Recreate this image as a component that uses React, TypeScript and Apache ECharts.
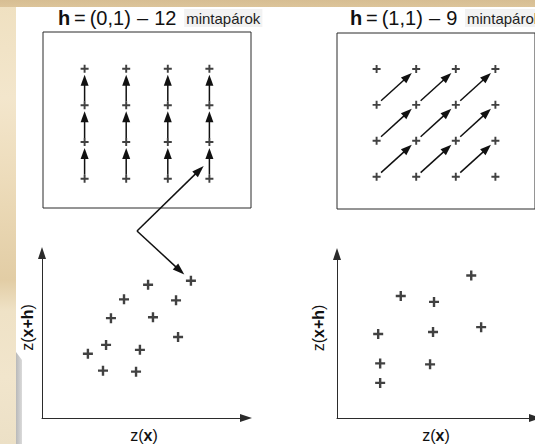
import React, { useEffect, useRef } from "react";
import * as echarts from "echarts";

const FONT = "'Liberation Sans', Arial, Helvetica, sans-serif";
const INK = "#111111";
const AXIS = "#2b2b2b";

// Regular sampling grid shared by both lag diagrams
const sampleCols = [1, 2, 3, 4];
const sampleRows = [1, 2, 3, 4];

// h = (0,1): every sample paired with the one directly above it (12 pairs)
const pairsH01 = [
  [1, 1, 1, 2], [1, 2, 1, 3], [1, 3, 1, 4],
  [2, 1, 2, 2], [2, 2, 2, 3], [2, 3, 2, 4],
  [3, 1, 3, 2], [3, 2, 3, 3], [3, 3, 3, 4],
  [4, 1, 4, 2], [4, 2, 4, 3], [4, 3, 4, 4],
];

// h = (1,1): every sample paired with its upper-right neighbour (9 pairs)
const pairsH11 = [
  [1, 1, 2, 2], [2, 1, 3, 2], [3, 1, 4, 2],
  [1, 2, 2, 3], [2, 2, 3, 3], [3, 2, 4, 3],
  [1, 3, 2, 4], [2, 3, 3, 4], [3, 3, 4, 4],
];

// h-scatterplots: [z(x), z(x+h)]
const scatterH01 = [
  [7.3, 8.32], [5.2, 8.08], [4.02, 7.19], [6.57, 7.13],
  [3.38, 6.05], [5.44, 6.11], [6.67, 4.91], [3.14, 4.43],
  [2.25, 3.89], [4.8, 4.13], [2.99, 2.87], [4.61, 2.81],
];
const scatterH11 = [
  [6.78, 8.69], [3.22, 7.44], [4.9, 7.08],
  [7.28, 5.54], [2.08, 5.12], [4.85, 5.24],
  [2.18, 3.33], [4.7, 3.27], [2.18, 2.14],
];

const titleLeft = ["h", "=", "(0,1)", "–", "12", "mintapárok"];
const titleRight = ["h", "=", "(1,1)", "–", "9", "mintapárok"];

const PLUS = "path://M3.8,0h2.4v3.8h3.8v2.4h-3.8v3.8h-2.4v-3.8h-3.8v-2.4h3.8z";

type Pt = number[];

function arrowParts(p1: Pt, p2: Pt, startGap: number, endGap: number, headLen: number, headW: number, lw: number) {
  const dx = p2[0] - p1[0];
  const dy = p2[1] - p1[1];
  const len = Math.hypot(dx, dy) || 1;
  const ux = dx / len;
  const uy = dy / len;
  const s = [p1[0] + ux * startGap, p1[1] + uy * startGap];
  const t = [p2[0] - ux * endGap, p2[1] - uy * endGap];
  const b = [t[0] - ux * headLen, t[1] - uy * headLen];
  const nx = -uy;
  const ny = ux;
  return [
    {
      type: "line",
      shape: { x1: s[0], y1: s[1], x2: b[0] + ux * 2, y2: b[1] + uy * 2 },
      style: { stroke: INK, lineWidth: lw },
    },
    {
      type: "polygon",
      shape: {
        points: [
          t,
          [b[0] + (nx * headW) / 2, b[1] + (ny * headW) / 2],
          [b[0] - (nx * headW) / 2, b[1] - (ny * headW) / 2],
        ],
      },
      style: { fill: INK },
    },
  ];
}

function pairRenderer(startGap: number, endGap: number) {
  return (_params: any, api: any) => {
    const p1 = api.coord([api.value(0), api.value(1)]);
    const p2 = api.coord([api.value(2), api.value(3)]);
    return { type: "group", children: arrowParts(p1, p2, startGap, endGap, 11, 8, 1.5) };
  };
}

const samplePoints = sampleCols.flatMap((c) => sampleRows.map((r) => [c, r]));

const richTitle = {
  b: { fontFamily: FONT, fontSize: 20, fontWeight: "bold", color: INK, lineHeight: 22 },
  n: { fontFamily: FONT, fontSize: 20, fontWeight: "normal", color: INK, lineHeight: 22 },
  g: { fontFamily: FONT, fontSize: 14, color: INK, lineHeight: 22 },
  w: { fontFamily: FONT, fontSize: 22, color: INK, lineHeight: 22 },
  s: {
    fontFamily: FONT,
    fontSize: 15,
    fontWeight: "normal",
    color: "#1e1e1e",
    backgroundColor: "#f2f2f2",
    padding: [2, 2, 1, 2],
    lineHeight: 18,
  },
};

const richAxis = {
  r: { fontFamily: FONT, fontSize: 16, color: INK },
  b: { fontFamily: FONT, fontSize: 16, fontWeight: "bold", color: INK },
};

function hiddenAxis(gridIndex: number, min: number, max: number) {
  return { gridIndex, type: "value", min, max, show: false };
}

function arrowAxis(gridIndex: number, name: string, nameGap: number, isY: boolean) {
  return {
    gridIndex,
    type: "value",
    min: 0,
    max: 10,
    name,
    nameLocation: "middle",
    nameGap,
    nameRotate: isY ? 90 : 0,
    nameTextStyle: { rich: richAxis, padding: isY ? [0, 0, 0, 16] : 0 },
    axisLine: {
      show: true,
      onZero: false,
      symbol: ["none", "triangle"],
      symbolSize: [8, 12],
      lineStyle: { color: AXIS, width: 1 },
    },
    axisTick: { show: false },
    axisLabel: { show: false },
    splitLine: { show: false },
  };
}

function titleText(p: string[]) {
  return `{b|${p[0]}}{g| }{n|${p[1]}}{g| }{n|${p[2]}}{w| }{n|${p[3]}}{w| }{n|${p[4]}}{g|  }{s|${p[5]}}`;
}

function baseGraphics() {
  return [
    {
      id: "paper",
      type: "rect",
      z: -10,
      shape: { x: 16, y: 7, width: 530, height: 440 },
      style: { fill: "#ffffff" },
    },
    {
      id: "edge",
      type: "polygon",
      z: -9,
      shape: { points: [[16, 352], [22, 360], [22, 444], [16, 444]] },
      style: {
        fill: new echarts.graphic.LinearGradient(0, 0, 1, 0, [
          { offset: 0, color: "#b9b9b9" },
          { offset: 1, color: "#dadada" },
        ]),
      },
    },
  ];
}

export default function App() {
  const ref = useRef<HTMLDivElement>(null);

  useEffect(() => {
    if (!ref.current) return;
    const chart = echarts.init(ref.current, null, { renderer: "svg" });

    const option: any = {
      animation: false,
      backgroundColor: "transparent",
      title: [
        { text: titleText(titleLeft), left: 58, top: 7, padding: 0, textStyle: { rich: richTitle } },
        { text: titleText(titleRight), left: 350, top: 7, padding: 0, textStyle: { rich: richTitle } },
      ],
      grid: [
        { left: 43, top: 32, width: 208, height: 176, show: true, borderColor: AXIS, borderWidth: 1 },
        { left: 337, top: 33, width: 212, height: 176, show: true, borderColor: AXIS, borderWidth: 1 },
        { left: 42, top: 253, width: 204, height: 167 },
        { left: 337, top: 254, width: 202, height: 168 },
      ],
      xAxis: [
        hiddenAxis(0, 0, 5),
        hiddenAxis(1, 0, 5),
        arrowAxis(2, "{r|z(}{b|x}{r|)}", 9, false),
        arrowAxis(3, "{r|z(}{b|x}{r|)}", 9, false),
      ],
      yAxis: [
        hiddenAxis(0, 0.2, 5),
        hiddenAxis(1, 0.1, 5),
        arrowAxis(2, "{r|z(}{b|x+h}{r|)}", 7, true),
        arrowAxis(3, "{r|z(}{b|x+h}{r|)}", 11, true),
      ],
      series: [
        {
          type: "custom",
          xAxisIndex: 0,
          yAxisIndex: 0,
          data: pairsH01,
          renderItem: pairRenderer(4, 6),
          silent: true,
        },
        {
          type: "custom",
          xAxisIndex: 1,
          yAxisIndex: 1,
          data: pairsH11,
          renderItem: pairRenderer(6, 6),
          silent: true,
        },
        {
          type: "scatter",
          xAxisIndex: 0,
          yAxisIndex: 0,
          data: samplePoints,
          symbol: PLUS,
          symbolSize: 8,
          itemStyle: { color: INK },
          z: 5,
        },
        {
          type: "scatter",
          xAxisIndex: 1,
          yAxisIndex: 1,
          data: samplePoints,
          symbol: PLUS,
          symbolSize: 8,
          itemStyle: { color: INK },
          z: 5,
        },
        {
          type: "scatter",
          xAxisIndex: 2,
          yAxisIndex: 2,
          data: scatterH01,
          symbol: PLUS,
          symbolSize: 10,
          itemStyle: { color: INK },
        },
        {
          type: "scatter",
          xAxisIndex: 3,
          yAxisIndex: 3,
          data: scatterH11,
          symbol: PLUS,
          symbolSize: 10,
          itemStyle: { color: INK },
        },
      ],
      graphic: baseGraphics(),
    };
    chart.setOption(option);

    // Link one h=(0,1) pair to its point in the h-scatterplot
    const pairMid = chart.convertToPixel({ xAxisIndex: 0, yAxisIndex: 0 }, [4, 1.5]) as number[];
    const pointPx = chart.convertToPixel({ xAxisIndex: 2, yAxisIndex: 2 }, scatterH01[0]) as number[];
    const bend = [137, 231];
    const link = {
      id: "link",
      type: "group",
      children: [
        ...arrowParts(bend, pairMid, 0, 8, 12, 8, 1.5),
        ...arrowParts(bend, pointPx, 0, 9, 12, 8, 1.5),
      ],
    };
    chart.setOption({ graphic: [...baseGraphics(), link] });

    return () => chart.dispose();
  }, []);

  return (
    <div
      ref={ref}
      style={{
        position: "fixed",
        left: 0,
        top: 0,
        width: 535,
        height: 444,
        background:
          "linear-gradient(180deg, #d7be93 0px, #dcc49a 7px, rgba(0,0,0,0) 7px), " +
          "linear-gradient(180deg, #efe0c0 0%, #f3e6cc 22%, #eddcbb 40%, #e2cda5 63%, #efe2c6 70%, #f1e5cc 85%, #ece0c6 100%)",
      }}
    />
  );
}
